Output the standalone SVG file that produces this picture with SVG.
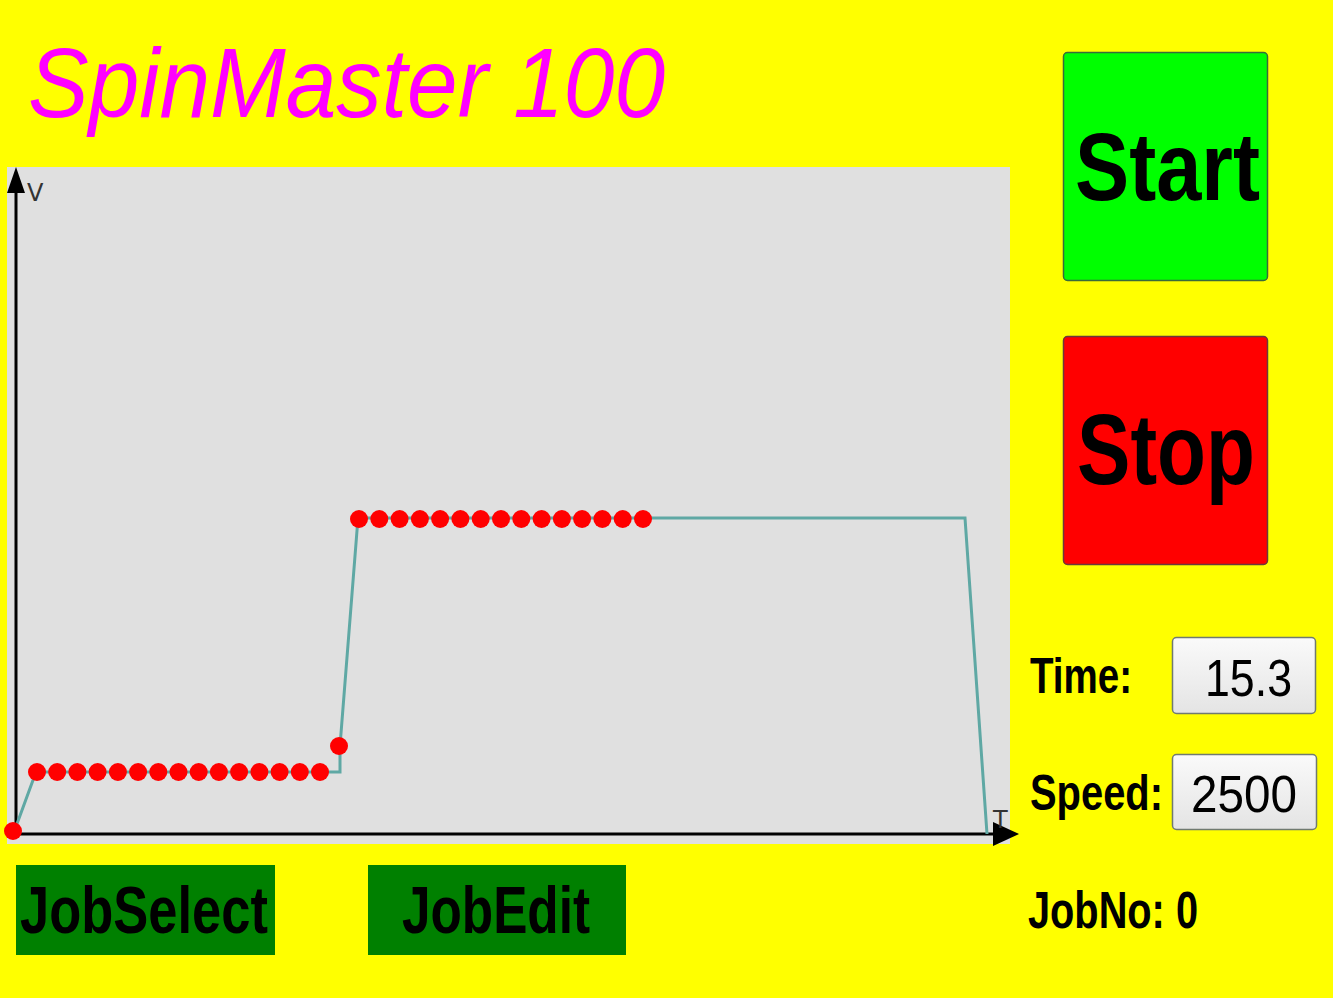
<svg xmlns="http://www.w3.org/2000/svg" xmlns:xlink="http://www.w3.org/1999/xlink" width="1333" height="998" viewBox="0 0 1333 998">
<style>
.lbl{font-family:"Liberation Sans",Arial,sans-serif;font-weight:bold;fill:#000}
.val{font-family:"Liberation Sans",Arial,sans-serif;fill:#000}
.axl{font-family:"DejaVu Sans","Liberation Sans",sans-serif;font-size:24px;fill:#333}
.dot{fill:#ff0000}
.prof{fill:none;stroke:#5fa8a4;stroke-width:3;stroke-linejoin:miter}
.ax{stroke:#000;stroke-width:3;fill:none}
</style>
<defs>
<linearGradient id="boxg" x1="0" y1="0" x2="0" y2="1">
<stop offset="0" stop-color="#fafafa"/>
<stop offset="1" stop-color="#e4e4e4"/>
</linearGradient>
<circle id="d" r="9" class="dot"/>
</defs>
<rect x="0" y="0" width="1333" height="998" fill="#ffff00"/>
<g id="title">
<text x="28" y="117" font-family="Liberation Sans, Arial, sans-serif" font-style="italic" font-size="99" fill="#ff00ff" textLength="637" lengthAdjust="spacingAndGlyphs">SpinMaster 100</text>
</g>
<g id="chart">
<rect x="7" y="167" width="1003" height="677" fill="#e0e0e0"/>
<g id="axes">
<line class="ax" x1="16" y1="190" x2="16" y2="834"/>
<polygon points="16,167 7,193 25,193" fill="#000"/>
<line class="ax" x1="16" y1="834" x2="995" y2="834"/>
<polygon points="1019,834 993,822 993,846" fill="#000"/>
<text class="axl" x="27" y="201">V</text>
<text class="axl" x="993" y="828">T</text>
</g>
<g id="connectors">
<polyline class="prof" points="14,832 36,772 340,772 340,746 358,518 965,518 987,834"/>
</g>
<g id="points">
<use xlink:href="#d" x="13" y="831"/>
<use xlink:href="#d" x="37" y="772"/>
<use xlink:href="#d" x="57.2" y="772"/>
<use xlink:href="#d" x="77.4" y="772"/>
<use xlink:href="#d" x="97.6" y="772"/>
<use xlink:href="#d" x="117.9" y="772"/>
<use xlink:href="#d" x="138.1" y="772"/>
<use xlink:href="#d" x="158.3" y="772"/>
<use xlink:href="#d" x="178.5" y="772"/>
<use xlink:href="#d" x="198.7" y="772"/>
<use xlink:href="#d" x="218.9" y="772"/>
<use xlink:href="#d" x="239.1" y="772"/>
<use xlink:href="#d" x="259.4" y="772"/>
<use xlink:href="#d" x="279.6" y="772"/>
<use xlink:href="#d" x="299.8" y="772"/>
<use xlink:href="#d" x="320" y="772"/>
<use xlink:href="#d" x="339" y="746"/>
<use xlink:href="#d" x="359" y="519"/>
<use xlink:href="#d" x="379.3" y="519"/>
<use xlink:href="#d" x="399.6" y="519"/>
<use xlink:href="#d" x="419.9" y="519"/>
<use xlink:href="#d" x="440.1" y="519"/>
<use xlink:href="#d" x="460.4" y="519"/>
<use xlink:href="#d" x="480.7" y="519"/>
<use xlink:href="#d" x="501" y="519"/>
<use xlink:href="#d" x="521.3" y="519"/>
<use xlink:href="#d" x="541.6" y="519"/>
<use xlink:href="#d" x="561.9" y="519"/>
<use xlink:href="#d" x="582.1" y="519"/>
<use xlink:href="#d" x="602.4" y="519"/>
<use xlink:href="#d" x="622.7" y="519"/>
<use xlink:href="#d" x="643" y="519"/>
</g>
</g>
<g id="btn-start">
<rect x="1063.5" y="52.5" width="204" height="228" rx="4" fill="#00ff00" stroke="#3a6a3a" stroke-width="1.5"/>
<text class="lbl" x="1075" y="200" font-size="97" textLength="185" lengthAdjust="spacingAndGlyphs">Start</text>
</g>
<g id="btn-stop">
<rect x="1063.5" y="336.5" width="204" height="228" rx="4" fill="#ff0000" stroke="#6a3a3a" stroke-width="1.5"/>
<text class="lbl" x="1077" y="484" font-size="100" textLength="178" lengthAdjust="spacingAndGlyphs">Stop</text>
</g>
<g id="time">
<text class="lbl" x="1030" y="693" font-size="50" textLength="102" lengthAdjust="spacingAndGlyphs">Time:</text>
<rect x="1172.5" y="637.5" width="143" height="76" rx="4" fill="url(#boxg)" stroke="#707a70" stroke-width="1.5"/>
<text class="val" x="1205" y="696" font-size="52" textLength="87" lengthAdjust="spacingAndGlyphs">15.3</text>
</g>
<g id="speed">
<text class="lbl" x="1030" y="810" font-size="50" textLength="133" lengthAdjust="spacingAndGlyphs">Speed:</text>
<rect x="1172.5" y="754.5" width="144" height="75" rx="4" fill="url(#boxg)" stroke="#707a70" stroke-width="1.5"/>
<text class="val" x="1191" y="812" font-size="52" textLength="106" lengthAdjust="spacingAndGlyphs">2500</text>
</g>
<g id="jobno">
<text class="lbl" x="1028" y="928" font-size="52" textLength="170" lengthAdjust="spacingAndGlyphs">JobNo: 0</text>
</g>
<g id="btn-jobselect">
<rect x="16" y="865" width="259" height="90" fill="#008000"/>
<text class="lbl" x="20" y="933" font-size="66" textLength="248" lengthAdjust="spacingAndGlyphs">JobSelect</text>
</g>
<g id="btn-jobedit">
<rect x="368" y="865" width="258" height="90" fill="#008000"/>
<text class="lbl" x="402" y="933" font-size="66" textLength="188" lengthAdjust="spacingAndGlyphs">JobEdit</text>
</g>
</svg>
